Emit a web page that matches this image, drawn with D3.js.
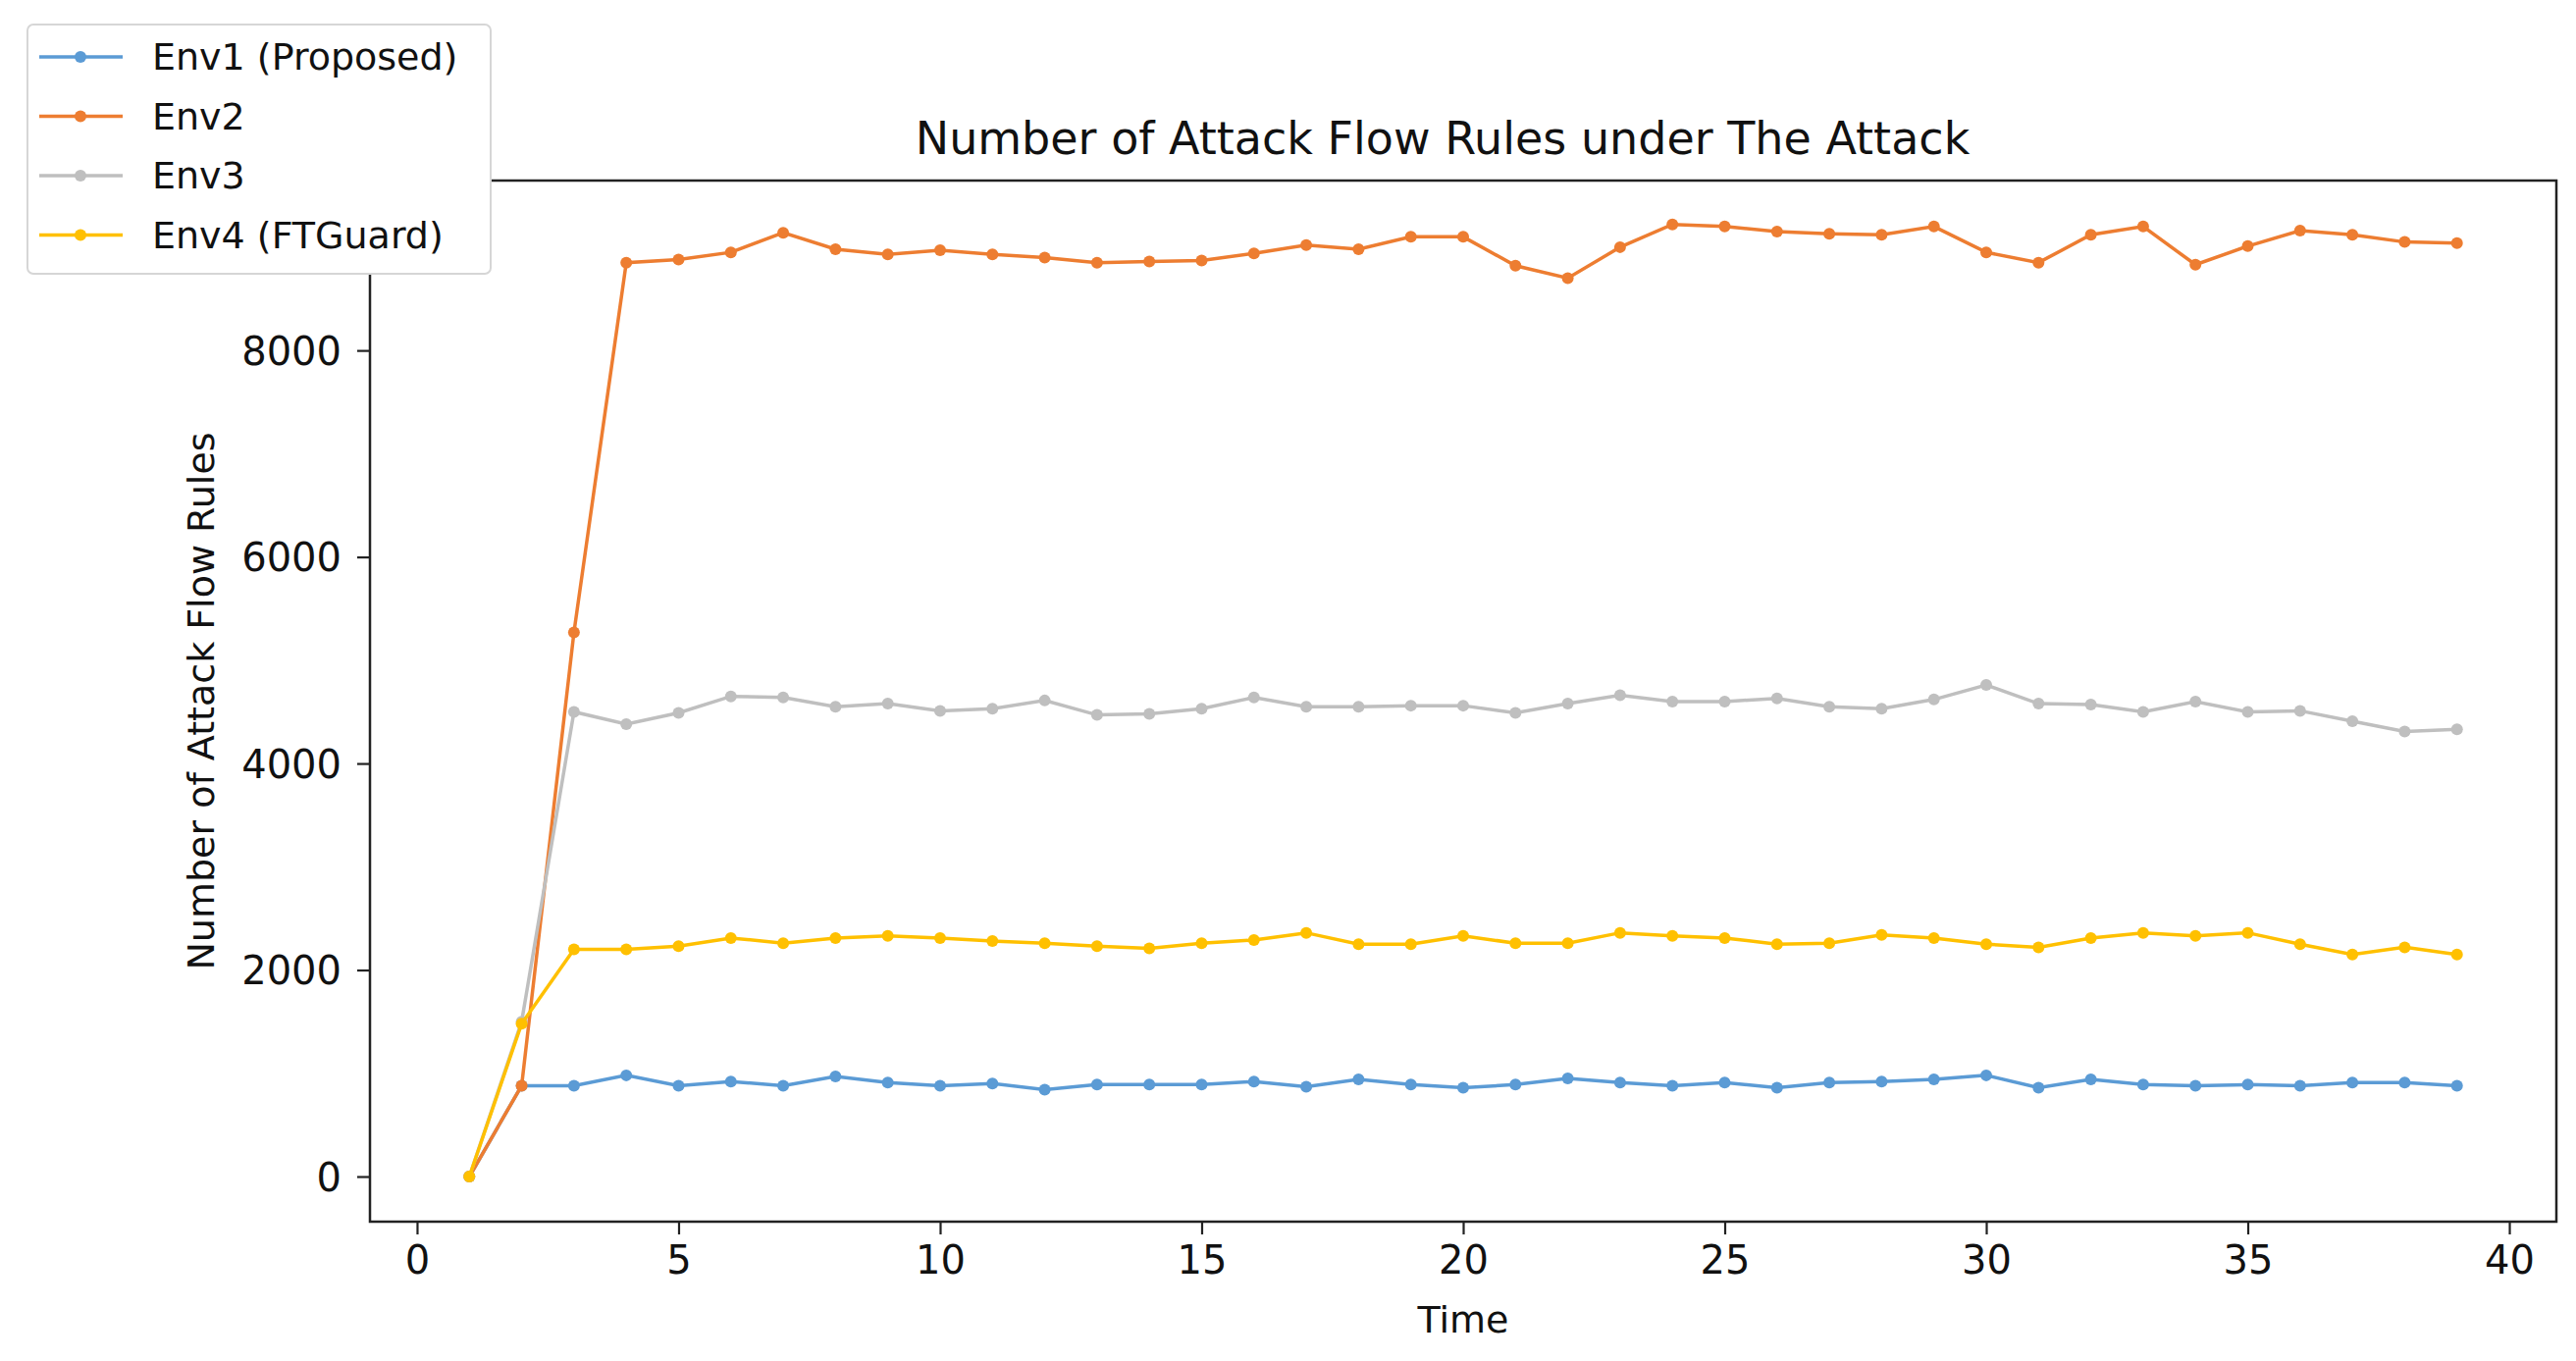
<!DOCTYPE html>
<html><head><meta charset="utf-8">
<script src="https://cdn.jsdelivr.net/npm/d3@7"></script>
<style>body{margin:0;background:#fff}text{font-family:"DejaVu Sans",sans-serif;fill:#111}</style>
</head><body><svg id="c" width="2625" height="1387"></svg>
<script>
const times = d3.range(1, 40);
const seriesNames = ["Env1 (Proposed)", "Env2", "Env3", "Env4 (FTGuard)"];
const colors = ["#5b9bd5", "#ed7d31", "#bfbfbf", "#ffc000"];
const env1 = [0,880,880,980,880,920,880,970,910,880,900,840,890,890,890,920,870,940,890,860,890,950,910,880,910,860,910,920,940,980,860,940,890,880,890,880,910,910,880];
const env2 = [0,880,5270,8850,8880,8950,9140,8980,8930,8970,8930,8900,8850,8860,8870,8940,9020,8980,9100,9100,8820,8700,9000,9220,9200,9150,9130,9120,9200,8950,8850,9120,9200,8830,9010,9160,9120,9050,9040];
const env3 = [0,1500,4500,4380,4490,4650,4640,4550,4580,4510,4530,4610,4470,4480,4530,4640,4550,4550,4560,4560,4490,4580,4660,4600,4600,4630,4550,4530,4620,4760,4580,4570,4500,4600,4500,4510,4410,4310,4330];
const env4 = [0,1480,2200,2200,2230,2310,2260,2310,2330,2310,2280,2260,2230,2210,2260,2290,2360,2250,2250,2330,2260,2260,2360,2330,2310,2250,2260,2340,2310,2250,2220,2310,2360,2330,2360,2250,2150,2220,2150];
const xTicks = [0,5,10,15,20,25,30,35,40];
const yTicks = [0,2000,4000,6000,8000];
const title = "Number of Attack Flow Rules under The Attack";
const xLabel = "Time", yLabel = "Number of Attack Flow Rules";

const all = [env1, env2, env3, env4];
const L=377,R=2605,T=184,B=1245;
const svg = d3.select("#c");
const x = d3.scaleLinear().domain([-0.9,40.9]).range([L,R]);
const y = d3.scaleLinear().domain([-437,9645]).range([B,T]);

const line = d3.line().x((d,i)=>x(times[i])).y(d=>y(d));
all.forEach((s,k)=>{
  const g = svg.append("g");
  g.append("path").attr("d", line(s)).attr("fill","none").attr("stroke",colors[k]).attr("stroke-width",3.5);
  g.selectAll("circle").data(s).join("circle").attr("cx",(d,i)=>x(times[i])).attr("cy",d=>y(d)).attr("r",6).attr("fill",colors[k]);
});

svg.append("rect").attr("x",L).attr("y",T).attr("width",R-L).attr("height",B-T).attr("fill","none").attr("stroke","#222").attr("stroke-width",2.5);

const xa = svg.append("g").attr("transform",`translate(0,${B})`).call(d3.axisBottom(x).tickValues(xTicks).tickSize(13).tickPadding(12));
const ya = svg.append("g").attr("transform",`translate(${L},0)`).call(d3.axisLeft(y).tickValues(yTicks).tickSize(13).tickPadding(16).tickFormat(d3.format("d")));
[xa,ya].forEach(a=>{a.select(".domain").remove();a.selectAll("line").attr("stroke","#222").attr("stroke-width",2.2);
  a.selectAll("text").style("font-size","40px").style("font-family","DejaVu Sans").attr("fill","#111");});
ya.selectAll("text").attr("dy","0.35em");

svg.append("text").attr("transform",`translate(1470,157)`).attr("text-anchor","middle").style("font-size","46px").text(title);
svg.append("text").attr("transform",`translate(1491,1358)`).attr("text-anchor","middle").style("font-size","38px").text(xLabel);
svg.append("text").attr("transform",`translate(218,${(T+B)/2}) rotate(-90)`).attr("text-anchor","middle").style("font-size","38px").text(yLabel);

const lg = svg.append("g");
lg.append("rect").attr("x",28).attr("y",25).attr("width",472).attr("height",254).attr("rx",6).attr("fill","#fff").attr("stroke","#d6d6d6").attr("stroke-width",2);
seriesNames.forEach((n,k)=>{
  const yy = 58 + k*60.5;
  lg.append("line").attr("x1",40).attr("x2",125).attr("y1",yy).attr("y2",yy).attr("stroke",colors[k]).attr("stroke-width",3.5);
  lg.append("circle").attr("cx",82).attr("cy",yy).attr("r",6).attr("fill",colors[k]);
  lg.append("text").attr("transform",`translate(155,${yy+13})`).style("font-size","38px").text(n);
});
</script></body></html>
